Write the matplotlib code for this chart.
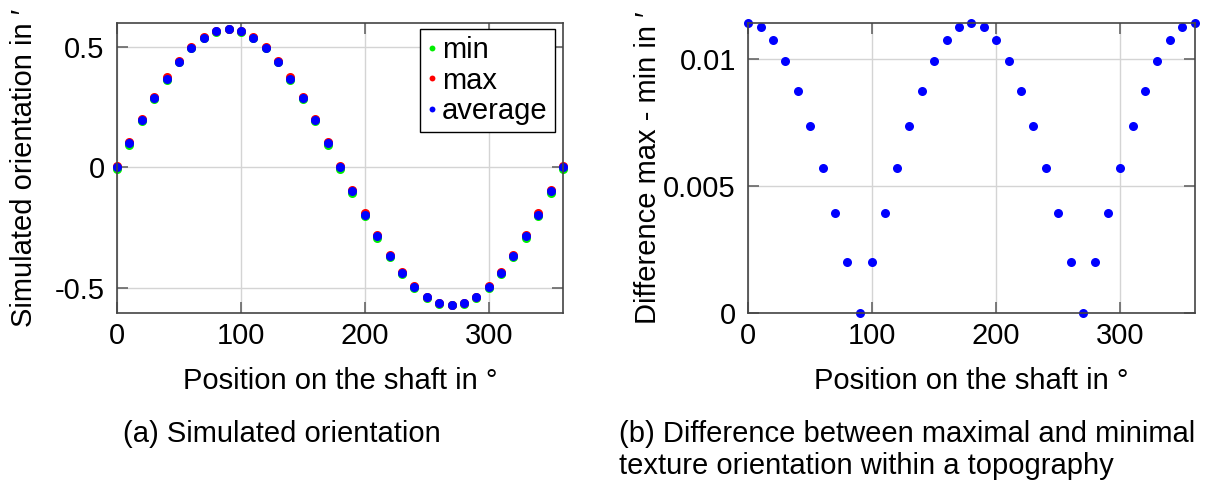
import matplotlib
matplotlib.use("Agg")
import matplotlib.pyplot as plt

plt.rcParams["font.family"] = ["Liberation Sans", "DejaVu Sans"]
plt.rcParams["font.size"] = 21

# shaft positions in degrees
position = [0, 10, 20, 30, 40, 50, 60, 70, 80, 90, 100, 110, 120, 130, 140, 150, 160, 170, 180,
            190, 200, 210, 220, 230, 240, 250, 260, 270, 280, 290, 300, 310, 320, 330, 340, 350, 360]

# simulated orientation (arc minutes)
orient_avg = [0.0, 0.0995, 0.196, 0.2865, 0.3683, 0.4389, 0.4962, 0.5384, 0.5643, 0.573,
              0.5643, 0.5384, 0.4962, 0.4389, 0.3683, 0.2865, 0.196, 0.0995, 0.0,
              -0.0995, -0.196, -0.2865, -0.3683, -0.4389, -0.4962, -0.5384, -0.5643, -0.573,
              -0.5643, -0.5384, -0.4962, -0.4389, -0.3683, -0.2865, -0.196, -0.0995, 0.0]
orient_min = [-0.0057, 0.0939, 0.1906, 0.2815, 0.3639, 0.4352, 0.4933, 0.5364, 0.5633, 0.573,
              0.5633, 0.5364, 0.4933, 0.4352, 0.3639, 0.2815, 0.1906, 0.0939, -0.0057,
              -0.1051, -0.2014, -0.2915, -0.3727, -0.4426, -0.4991, -0.5404, -0.5653, -0.573,
              -0.5653, -0.5404, -0.4991, -0.4426, -0.3727, -0.2915, -0.2014, -0.1051, -0.0057]
orient_max = [0.0057, 0.1051, 0.2014, 0.2915, 0.3727, 0.4426, 0.4991, 0.5404, 0.5653, 0.573,
              0.5653, 0.5404, 0.4991, 0.4426, 0.3727, 0.2915, 0.2014, 0.1051, 0.0057,
              -0.0939, -0.1906, -0.2815, -0.3639, -0.4352, -0.4933, -0.5364, -0.5633, -0.573,
              -0.5633, -0.5364, -0.4933, -0.4352, -0.3639, -0.2815, -0.1906, -0.0939, 0.0057]

# max - min spread within a topography
orient_diff = [0.01145, 0.01128, 0.01076, 0.00992, 0.00877, 0.00736, 0.00573, 0.00392, 0.00199, 0.0,
               0.00199, 0.00392, 0.00573, 0.00736, 0.00877, 0.00992, 0.01076, 0.01128, 0.01145,
               0.01128, 0.01076, 0.00992, 0.00877, 0.00736, 0.00573, 0.00392, 0.00199, 0.0,
               0.00199, 0.00392, 0.00573, 0.00736, 0.00877, 0.00992, 0.01076, 0.01128, 0.01145]

left_yticks = [-0.5, 0, 0.5]
left_yticklabels = ["-0.5", "0", "0.5"]
right_yticks = [0, 0.005, 0.01]
right_yticklabels = ["0", "0.005", "0.01"]
xticks = [0, 100, 200, 300]

W, H = 1212, 483
FS = 21
fig = plt.figure(figsize=(W / 100, H / 100), dpi=100)


def px_axes(x0, x1, y0, y1):
    return fig.add_axes([x0 / W, 1 - y1 / H, (x1 - x0) / W, (y1 - y0) / H])


def style_axes(ax):
    for sp in ax.spines.values():
        sp.set_color("#444444")
        sp.set_linewidth(1.2)
    ax.grid(True, color="#d4d4d4", linewidth=1.0)
    ax.set_axisbelow(True)
    ax.tick_params(direction="in", length=8, width=1.2, color="#666666",
                   top=True, right=True, labelsize=FS)
    ax.tick_params(axis="x", pad=7)
    ax.tick_params(axis="y", pad=9)
    ax.set_xticks(xticks)
    ax.set_xlim(0, 360)
    ax.set_xlabel("Position on the shaft in °", fontsize=FS, labelpad=12)


ax1 = px_axes(117, 563, 22.7, 312.7)
style_axes(ax1)
ax1.plot(position, orient_min, "o", color="#00ee00", ms=6.5, mec="none", label="min", clip_on=False)
ax1.plot(position, orient_max, "o", color="#ff0000", ms=6.5, mec="none", label="max", clip_on=False)
ax1.plot(position, orient_avg, "o", color="#0000ff", ms=6.5, mec="none", label="average", clip_on=False)
ax1.set_ylim(-0.603, 0.6)
ax1.set_yticks(left_yticks, left_yticklabels)
ax1.set_ylabel("Simulated orientation in ′", fontsize=FS, labelpad=12)
leg = ax1.legend(loc="upper right", bbox_to_anchor=(0.982, 0.978), markerscale=0.65,
                 handlelength=0.3, handletextpad=0.2, labelspacing=0.08,
                 borderpad=0.25, borderaxespad=0, fontsize=FS, fancybox=False, framealpha=1)
leg.get_frame().set_edgecolor("black")
leg.get_frame().set_linewidth(1.0)

ax2 = px_axes(748.3, 1194.5, 22.7, 312.7)
style_axes(ax2)
ax2.plot(position, orient_diff, "o", color="#0000ff", ms=6.5, mec="none", clip_on=False)
ax2.set_ylim(0, 0.01145)
ax2.set_yticks(right_yticks, right_yticklabels)
ax2.set_ylabel("Difference max - min in ′", fontsize=FS, labelpad=0.5)

fig.text(123 / W, 1 - 434 / H, "(a) Simulated orientation", fontsize=FS, va="center", ha="left")
fig.text(619 / W, 1 - 434 / H, "(b) Difference between maximal and minimal", fontsize=FS,
         va="center", ha="left")
fig.text(619 / W, 1 - 466 / H, "texture orientation within a topography", fontsize=FS,
         va="center", ha="left")

fig.savefig("out.png", dpi=100)
